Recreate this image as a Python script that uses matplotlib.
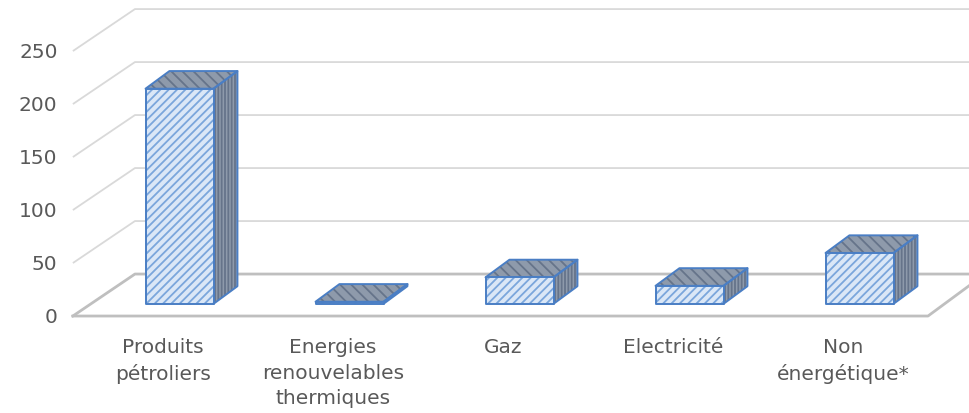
import matplotlib.pyplot as plt
from matplotlib.patches import Polygon

categories = ['Produits\npétroliers', 'Energies\nrenouvelables\nthermiques', 'Gaz',
              'Electricité', 'Non\nénergétique*']
values = [203, 2, 25, 17, 48]
yticks = [0, 50, 100, 150, 200, 250]

# oblique projection of the Excel 3D column chart, in data units
DX, DY = 0.335, 39.6          # full floor depth
F0, F1 = 0.29, 0.71           # depth range of the bars
W = 0.4                       # bar width

FRONT = '#dae7f7'
FRONT_HATCH = '#7aa6dc'
DARK = '#8e9aab'
DARK_HATCH = '#66748a'
EDGE = '#4a7ec4'


def face(ax, pts, fc, hc, hatch, z):
    ax.add_patch(Polygon(pts, closed=True, facecolor=fc, edgecolor='none', zorder=z))
    ax.add_patch(Polygon(pts, closed=True, fill=False, edgecolor=hc, hatch=hatch,
                         linewidth=0, zorder=z))
    ax.add_patch(Polygon(pts, closed=True, fill=False, edgecolor=EDGE,
                         linewidth=1.4, joinstyle='round', zorder=z + 0.1))


plt.rcParams['hatch.linewidth'] = 1.3
fig = plt.figure(figsize=(9.7, 4.14), dpi=100)
ax = fig.add_axes([0, 0, 1, 1])
ax.set_xlim(-0.9588, 4.747)
ax.set_ylim(-91.5, 299.1)
ax.axis('off')

x0, x1 = -0.5, len(categories) - 0.5

# side wall and back wall gridlines
for v in yticks[1:]:
    ax.plot([x0 - 0.03, x0 + DX, 5.0], [v, v + DY, v + DY],
            color='#d9d9d9', lw=1.3, solid_capstyle='butt', zorder=1)

# floor
ax.plot([x0 - 0.03, x1, x1 + DX], [0, 0, DY], color='#bfbfbf', lw=2, zorder=1)
ax.plot([x0 - 0.03, x0 + DX, 5.0], [0, DY, DY], color='#bfbfbf', lw=2, zorder=1)

for v in yticks:
    ax.text(x0 - 0.12, v, str(v), ha='right', va='center', fontsize=14.5, color='#595959')

for i, (lab, v) in enumerate(zip(categories, values)):
    xl = i - W / 2 + F0 * DX
    xr = i + W / 2 + F0 * DX
    yb = F0 * DY
    ddx, ddy = (F1 - F0) * DX, (F1 - F0) * DY
    front = [(xl, yb), (xr, yb), (xr, yb + v), (xl, yb + v)]
    top = [(xl, yb + v), (xr, yb + v), (xr + ddx, yb + v + ddy), (xl + ddx, yb + v + ddy)]
    side = [(xr, yb), (xr + ddx, yb + ddy), (xr + ddx, yb + v + ddy), (xr, yb + v)]
    face(ax, side, DARK, DARK_HATCH, '|||||', 3)
    face(ax, top, DARK, DARK_HATCH, '\\\\\\', 3)
    face(ax, front, FRONT, FRONT_HATCH, '////', 4)
    ax.text(i, -20, lab, ha='center', va='top', fontsize=14.5, color='#595959',
            linespacing=1.42)

fig.savefig('out.png', dpi=100)
